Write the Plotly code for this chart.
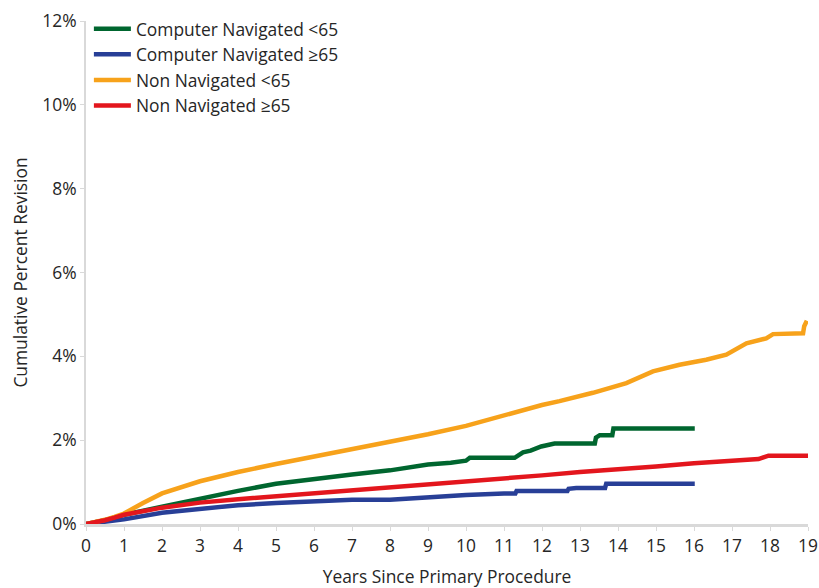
import plotly.graph_objects as go

# Cumulative percent revision
years_cn_lt65 = [0, 0.25, 0.5, 0.75, 1, 2, 3, 4, 5, 6, 7, 8, 9, 9.6, 10, 10.1, 11.28, 11.5, 11.7, 11.98, 12.33,
                 13.39, 13.42, 13.52, 13.85, 13.88, 16.02]
cpr_cn_lt65 = [0, 0.04, 0.09, 0.15, 0.22, 0.41, 0.61, 0.79, 0.96, 1.08, 1.18, 1.28, 1.42, 1.46, 1.51, 1.58, 1.58, 1.71, 1.75, 1.85, 1.92,
               1.92, 2.06, 2.12, 2.12, 2.28, 2.28]

years_cn_ge65 = [0, 0.25, 0.5, 0.75, 1, 2, 3, 4, 5, 6, 7, 8, 9, 10, 11, 11.3, 11.33, 12.67, 12.7, 12.9,
                 13.66, 13.69, 16.02]
cpr_cn_ge65 = [0, 0.03, 0.06, 0.09, 0.11, 0.27, 0.37, 0.45, 0.50, 0.55, 0.58, 0.58, 0.64, 0.69, 0.73, 0.73, 0.79, 0.79, 0.84, 0.86,
               0.86, 0.96, 0.96]

years_nn_lt65 = [0, 0.25, 0.5, 0.75, 1, 1.5, 2, 3, 4, 5, 6, 7, 8, 9, 10, 11, 12, 12.46, 13.34, 14.22, 14.92, 15.62,
                 16.32, 16.85, 17.38, 17.9, 18.08, 18.87, 18.9, 18.97]
cpr_nn_lt65 = [0, 0.04, 0.1, 0.17, 0.25, 0.5, 0.73, 1.02, 1.24, 1.43, 1.61, 1.79, 1.95, 2.14, 2.34, 2.6, 2.84, 2.93, 3.13, 3.36, 3.64, 3.80,
               3.92, 4.04, 4.31, 4.43, 4.53, 4.55, 4.72, 4.85]

years_nn_ge65 = [0, 0.25, 0.5, 0.75, 1, 2, 3, 4, 5, 6, 7, 8, 9, 10, 11, 12, 13, 14, 15, 16, 17, 17.7, 17.96, 19]
cpr_nn_ge65 = [0, 0.04, 0.09, 0.15, 0.22, 0.39, 0.51, 0.59, 0.66, 0.74, 0.80, 0.87, 0.93, 1.0, 1.08, 1.16, 1.24, 1.30, 1.37, 1.45, 1.51,
               1.55, 1.63, 1.63]

series = [
    ("Computer Navigated <65", years_cn_lt65, cpr_cn_lt65, "#00662F"),
    ("Computer Navigated \u226565", years_cn_ge65, cpr_cn_ge65, "#283F97"),
    ("Non Navigated <65", years_nn_lt65, cpr_nn_lt65, "#F7A21B"),
    ("Non Navigated \u226565", years_nn_ge65, cpr_nn_ge65, "#E3161D"),
]

FONT = "Open Sans, Noto Sans, sans-serif"
FS = 17.4

fig = go.Figure()
for name, xs, ys, col in series:
    fig.add_trace(go.Scatter(x=xs, y=ys, name=name, mode="lines",
                             line=dict(color=col, width=4.5)))

fig.update_layout(
    width=819, height=588,
    margin=dict(l=86, r=11, t=18, b=64),
    paper_bgcolor="white", plot_bgcolor="white",
    font=dict(family=FONT, size=FS, color="#262626"),
    legend=dict(x=0.004, y=1.02, xanchor="left", yanchor="top",
                font=dict(size=FS), bgcolor="rgba(0,0,0,0)",
                itemwidth=37, tracegroupgap=0),
)
fig.update_xaxes(
    range=[0, 19], tickmode="linear", dtick=1, automargin=False,
    showgrid=False, zeroline=False,
    showline=True, linecolor="#D9D9D9", linewidth=3,
    ticks="outside", ticklen=4, tickcolor="#D9D9D9", tickwidth=1,
    tickfont=dict(size=FS),
    title=dict(text="Years Since Primary Procedure", standoff=15, font=dict(size=FS)),
)
fig.update_yaxes(
    range=[0, 12], tickmode="linear", dtick=2, ticksuffix="%", automargin=False,
    showgrid=False, zeroline=False,
    showline=True, linecolor="#D9D9D9", linewidth=2,
    ticks="outside", ticklen=4, tickcolor="#D9D9D9", tickwidth=1,
    tickfont=dict(size=FS),
    title=dict(text="Cumulative Percent Revision", standoff=10, font=dict(size=FS)),
)

# drop the default 8px body margin so the figure fills the window exactly
fig.write_html("out.html", config={"displayModeBar": False},
               post_script="document.body.style.margin='0';")
